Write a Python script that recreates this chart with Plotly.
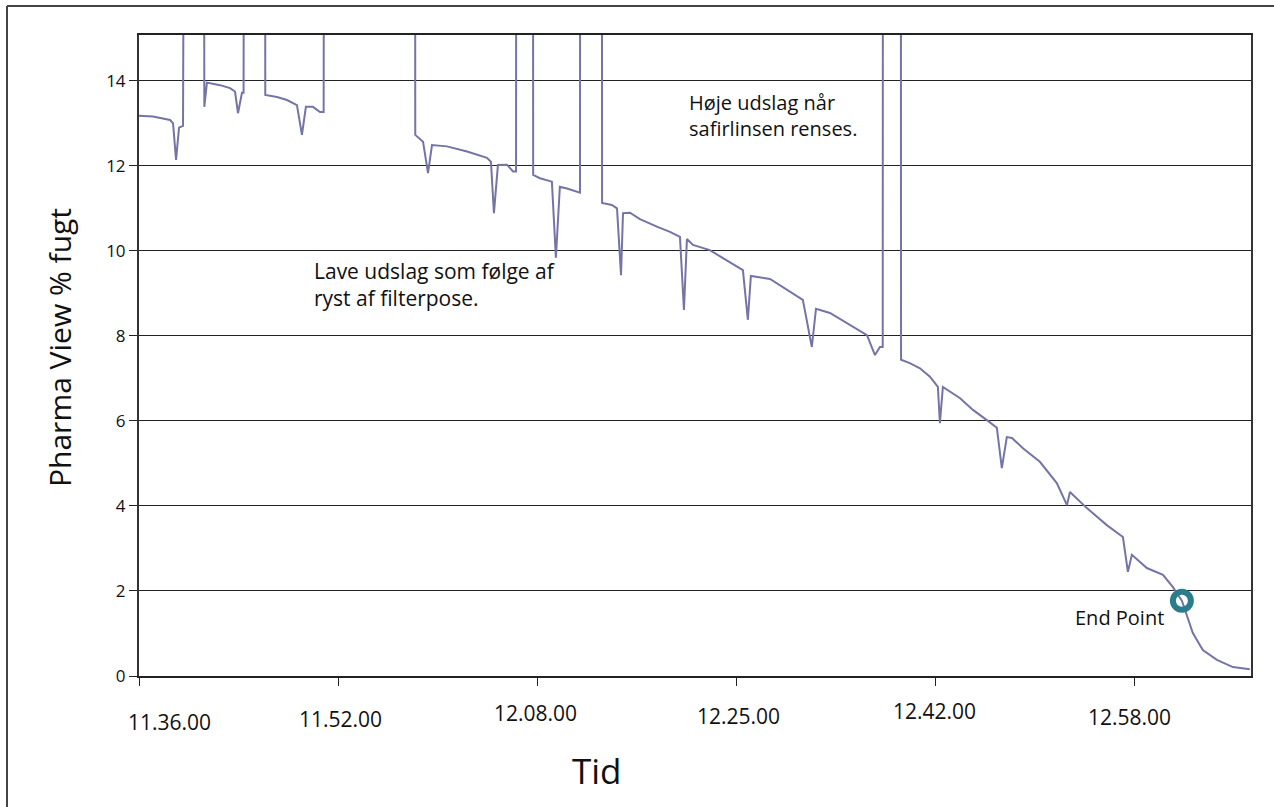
import plotly.graph_objects as go

# ---------------- data ----------------
# sample position along the time axis (ticks every 100 samples)
sample = [0, 7.0, 15.6, 17.1, 18.6, 20.1, 22.1, 22.6, 32.6, 32.8, 34.1, 40.7, 45.7, 48.2, 49.7,
          51.7, 52.5, 52.7, 63.3, 63.4, 69.3, 74.3, 79.3, 81.8, 83.8, 87.3, 90.9, 92.7, 92.9,
          138.6, 138.7, 142.6, 145.1, 147.1, 154.6, 164.7, 174.7, 176.7, 178.2, 180.2, 184.7,
          187.8, 189.3, 189.4, 197.8, 197.9, 201.3, 207.3, 209.3, 211.3, 214.9, 220.4, 221.4,
          221.5, 232.4, 232.5, 237.4, 240.0, 242.0, 243.0, 246.5, 251.5, 260.0, 266.6, 271.6,
          273.6, 275.1, 278.1, 286.6, 293.2, 303.2, 305.7, 307.2, 316.8, 326.8, 333.3, 337.8,
          339.9, 346.9, 356.9, 365.5, 369.5, 372.0, 373.4, 373.5, 382.5, 382.6, 387.0, 392.1,
          397.1, 401.1, 402.1, 403.6, 412.1, 418.7, 425.7, 430.7, 433.2, 435.7, 438.3, 443.8,
          452.3, 460.8, 465.9, 467.4, 475.9, 485.9, 494.0, 496.5, 498.5, 506.0, 514.1, 519.1,
          523.6, 526.6, 529.1, 534.1, 541.2, 549.2, 557.7]
moisture = [13.18, 13.16, 13.08, 13.00, 12.14, 12.90, 12.94, 20, 20, 13.39, 13.96, 13.90, 13.83,
            13.75, 13.24, 13.72, 13.72, 20, 20, 13.67, 13.62, 13.55, 13.43, 12.73, 13.39, 13.39,
            13.27, 13.27, 20, 20, 12.73, 12.57, 11.83, 12.49, 12.46, 12.34, 12.19, 12.10, 10.89,
            12.02, 12.03, 11.87, 11.87, 20, 20, 11.79, 11.71, 11.63, 9.84, 11.51, 11.47, 11.37,
            11.37, 20, 20, 11.13, 11.08, 11.00, 9.43, 10.89, 10.90, 10.75, 10.57, 10.45, 10.33,
            8.61, 10.28, 10.14, 10.02, 9.83, 9.55, 8.38, 9.41, 9.34, 9.04, 8.85, 7.74, 8.64, 8.54,
            8.26, 8.02, 7.55, 7.74, 7.74, 20, 20, 7.44, 7.36, 7.24, 7.04, 6.80, 5.95, 6.80, 6.54,
            6.26, 6.02, 5.84, 4.89, 5.62, 5.60, 5.36, 5.04, 4.54, 4.02, 4.33, 3.95, 3.55, 3.27,
            2.45, 2.85, 2.54, 2.38, 2.09, 1.77, 1.36, 1.01, 0.61, 0.38, 0.21, 0.16]

end_point_x = [523.6]
end_point_y = [1.77]

x_tick_vals = [0, 100, 200, 300, 400, 500]
x_tick_text = ["11.36.00", "11.52.00", "12.08.00", "12.25.00", "12.42.00", "12.58.00"]
y_tick_vals = [0, 2, 4, 6, 8, 10, 12, 14]

# ---------------- layout geometry (pixels) ----------------
W, H = 1274, 807
PL, PR, PT, PB = 139, 1251, 35, 676


def px(x):
    return (x - PL) / (PR - PL)


def py(y):
    return (PB - y) / (PB - PT)


FONT = "Open Sans, Noto Sans, DejaVu Sans, sans-serif"
LINE_COL = "#7474a6"
END_COL = "#2a7d8c"

fig = go.Figure()
fig.add_trace(go.Scatter(x=sample, y=moisture, mode="lines",
                         line=dict(color=LINE_COL, width=2), hoverinfo="skip",
                         showlegend=False))
fig.add_trace(go.Scatter(x=end_point_x, y=end_point_y, mode="markers",
                         marker=dict(symbol="circle-open", size=18, color=END_COL,
                                     line=dict(color=END_COL, width=6)),
                         showlegend=False, hoverinfo="skip"))

annotations = []
# x tick labels (slightly staggered, first one nudged right as in the original)
label_y = [722, 719, 713, 716, 711, 717]
label_dx = [30, 2, -2, 2, -1, -5]
for v, t, ly, dx in zip(x_tick_vals, x_tick_text, label_y, label_dx):
    annotations.append(dict(x=v, xref="x", y=py(ly), yref="paper", text=t,
                            showarrow=False, xanchor="center", yanchor="middle",
                            xshift=dx, font=dict(family=FONT, size=21, color="#111")))

# axis titles
annotations.append(dict(x=px(59), y=py(348), xref="paper", yref="paper",
                        text="Pharma View % fugt", textangle=-90, showarrow=False,
                        xanchor="center", yanchor="middle",
                        font=dict(family=FONT, size=30, color="#111")))
annotations.append(dict(x=px(597), y=py(770), xref="paper", yref="paper",
                        text="Tid", showarrow=False, xanchor="center", yanchor="middle",
                        font=dict(family=FONT, size=35, color="#111")))

# notes
notes = [("Lave udslag som følge af<br>ryst af filterpose.", 312, 284, 21),
         ("Høje udslag når<br>safirlinsen renses.", 687, 116, 20)]
for t, nx, ny, fs in notes:
    annotations.append(dict(x=px(nx), y=py(ny), xref="paper", yref="paper", text=t,
                            showarrow=False, xanchor="left", yanchor="middle", align="left",
                            font=dict(family=FONT, size=fs, color="#111")))
annotations.append(dict(x=px(1166), y=py(617), xref="paper", yref="paper", text="End Point",
                        showarrow=False, xanchor="right", yanchor="middle",
                        font=dict(family=FONT, size=20, color="#111")))

shapes = [
    # outer frame (left and top edges)
    dict(type="line", xref="paper", yref="paper", x0=px(7), x1=px(7), y0=py(6), y1=py(820),
         line=dict(color="#444", width=2)),
    dict(type="line", xref="paper", yref="paper", x0=px(7), x1=px(1290), y0=py(6), y1=py(6),
         line=dict(color="#444", width=2)),
]

fig.update_layout(
    width=W, height=H, autosize=False,
    margin=dict(l=PL, r=W - PR, t=PT, b=H - PB, pad=0),
    paper_bgcolor="white", plot_bgcolor="white",
    font=dict(family=FONT, color="#111"),
    annotations=annotations, shapes=shapes,
    xaxis=dict(range=[0, 558.3], tickvals=x_tick_vals, ticktext=x_tick_text,
               showticklabels=False, ticks="outside", ticklen=8, tickcolor="#222",
               showgrid=False, zeroline=False, showline=True, linecolor="#222",
               linewidth=2, mirror=True),
    yaxis=dict(range=[0, 15.08], tickvals=y_tick_vals, ticks="outside", ticklen=8,
               tickcolor="#222", tickfont=dict(family=FONT, size=17, color="#111"),
               showgrid=True, gridcolor="#222", gridwidth=1.2, zeroline=False,
               showline=True, linecolor="#333", linewidth=2, mirror=True),
)

fig.write_html("out.html",
               config={"displayModeBar": False},
               post_script="document.body.style.margin='0';document.body.style.overflow='hidden';")
